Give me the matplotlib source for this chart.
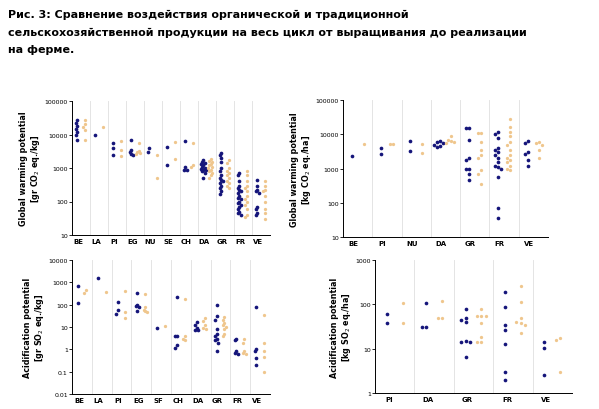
import numpy as np
import matplotlib
matplotlib.use("Agg")
import matplotlib.pyplot as plt

ORG = "#15157a"
CONV = "#efc68d"

# Panel 1: gr CO2 eq./kg
p1_cats = ["BE", "LA", "PI", "EG", "NU", "SE", "CH", "DA", "GR", "FR", "VE"]
p1_org = [[28000, 22000, 18000, 15000, 12000, 10000, 7000], [10000], [5500, 4000, 2400],
          [7000, 3500, 3000, 2600, 2500], [3900, 3000], [4300, 1200], [6500, 1100, 900, 850],
          [1700, 1500, 1400, 1300, 1200, 1100, 1000, 950, 900, 850, 800, 700, 500],
          [2900, 2500, 2000, 1500, 1000, 800, 600, 500, 450, 400, 350, 300, 250, 200, 170],
          [700, 600, 400, 300, 250, 220, 200, 180, 150, 130, 120, 100, 90, 80, 70, 60, 50, 45, 40],
          [450, 300, 220, 200, 180, 70, 60, 45, 40]]
p1_conv = [[28000, 20000, 17000, 14000, 7000], [17000], [6500, 3500, 2300],
           [5500, 3200, 2800, 2600, 3000], [2500, 500], [6000, 1900], [5500, 1200, 1100],
           [1800, 1600, 1500, 1300, 1200, 1100, 1000, 900, 800, 700, 600, 500],
           [1700, 1400, 1000, 800, 700, 600, 500, 400, 350, 300, 250],
           [800, 600, 400, 300, 250, 200, 150, 120, 100, 80, 60, 40, 35],
           [400, 300, 220, 200, 150, 100, 60, 45, 30]]

# Panel 2: kg CO2 eq./ha
p2_cats = ["BE", "PI", "NU", "DA", "GR", "FR", "VE"]
p2_org = [[2300], [4000, 2700], [6500, 3300], [6500, 6000, 5500, 5000, 4500, 4200],
          [15000, 15000, 7000, 2000, 1800, 1000, 1000, 700, 450],
          [12000, 10000, 8000, 4000, 3500, 3000, 2500, 2000, 1500, 1200, 1100, 1000, 550, 70, 35],
          [6500, 5500, 3000, 2600, 1800, 1200]]
p2_conv = [[5200], [5300, 5300], [5300, 2800], [9000, 7000, 6500, 6000, 5500],
           [11000, 11000, 6000, 3500, 2500, 2000, 900, 700, 350],
           [28000, 16000, 12000, 9000, 6000, 5000, 3500, 2500, 2000, 1800, 1500, 1200, 1000, 900],
           [6000, 5500, 5000, 3500, 2000]]

# Panel 3: gr SO2 eq./kg
p3_cats = ["BE", "LA", "PI", "EG", "SF", "CH", "DA", "GR", "FR", "VE"]
p3_org = [[700, 120], [1500], [130, 55, 38], [350, 100, 90, 80, 50], [9], [230, 4, 4, 1.5, 1.2],
          [16, 12, 9, 7, 7], [100, 30, 20, 8, 5, 4, 3, 2.5, 2, 0.8], [3, 2.5, 0.8, 0.7, 0.6],
          [75, 1, 0.8, 0.4, 0.2]]
p3_conv = [[450, 320], [380], [400, 45, 25], [300, 80, 60, 50, 45], [11], [180, 4, 3, 2.5],
           [25, 18, 12, 9, 8], [28, 20, 15, 12, 10, 8, 5, 4], [3, 2, 0.8, 0.7, 0.6],
           [35, 2, 0.8, 0.45, 0.1]]

# Panel 4: kg SO2 eq./ha
p4_cats = ["PI", "DA", "GR", "FR", "VE"]
p4_org = [[60, 38], [105, 31, 31], [80, 50, 45, 40, 15, 14, 14, 6.5],
          [190, 85, 35, 26, 12.5, 3, 2], [14, 10.5, 2.5]]
p4_conv = [[105, 37], [120, 48, 48], [80, 55, 55, 55, 38, 18, 14, 14],
           [260, 110, 48, 40, 38, 35, 22], [17, 16, 3]]


def swarm(vals, step, tol):
    lv = np.log10(np.array(vals, float))
    order = np.argsort(-lv)
    offs = np.zeros(len(vals))
    placed = []
    for i in order:
        k = 0
        while True:
            cand = ((k + 1) // 2) * step * (1 if k % 2 == 0 else -1)
            if all(abs(lv[i] - lv[j]) > tol or abs(cand - offs[j]) > step * 0.9 for j in placed):
                break
            k += 1
        offs[i] = cand
        placed.append(i)
    return offs


def panel(ax, cats, org, conv, ylim, ylabel, ms, step):
    n = len(cats)
    ax.set_yscale("log")
    span = np.log10(ylim[1]) - np.log10(ylim[0])
    tol = span * 0.03
    for i in range(n):
        o = swarm(org[i], step, tol)
        c = swarm(conv[i], step, tol)
        ax.scatter(i - 0.2 + o, org[i], s=ms, color=ORG, lw=0, zorder=3)
        ax.scatter(i + 0.2 + c, conv[i], s=ms * 0.8, color=CONV, lw=0, zorder=3)
    for i in range(n - 1):
        ax.axvline(i + 0.5, color="#e4e4e4", lw=0.7, zorder=1)
    ax.set_xlim(-0.5, n - 0.5)
    ax.set_ylim(*ylim)
    ax.set_xticks(np.arange(n) - 0.15)
    ax.set_xticklabels(cats, fontsize=5, fontweight="bold")
    ax.tick_params(axis="x", length=0, pad=2)
    ax.tick_params(axis="y", labelsize=4.5, length=2, width=0.6, pad=1)
    ax.minorticks_off()
    ticks = [10 ** k for k in range(int(np.log10(ylim[0])), int(np.log10(ylim[1])) + 1)]
    ax.set_yticks(ticks)
    ax.set_yticklabels([("%g" % t) for t in ticks])
    ax.set_ylabel(ylabel, fontsize=5.8, fontweight="bold", labelpad=2, linespacing=1.1)
    for s in ["top", "right"]:
        ax.spines[s].set_visible(False)
    for s in ["left", "bottom"]:
        ax.spines[s].set_linewidth(0.7)


fig = plt.figure(figsize=(5.99, 4.10), dpi=100)
fig.text(0.013, 0.975,
         "Рис. 3: Сравнение воздействия органической и традиционной\n"
         "сельскохозяйственной продукции на весь цикл от выращивания до реализации\n"
         "на ферме.",
         fontsize=8, fontweight="bold", va="top", ha="left", linespacing=1.9)

W, H = 599, 410
def add(l, t, r, b):
    return fig.add_axes([l / W, 1 - b / H, (r - l) / W, (b - t) / H])

ax1 = add(72, 102, 270, 236)
ax2 = add(343, 101, 548, 238)
ax3 = add(72, 261, 270, 395)
ax4 = add(375, 261, 572, 394)

panel(ax1, p1_cats, p1_org, p1_conv, (10, 100000),
      "Global warming potential\n[gr CO$_2$ eq./kg]", 7, 0.08)
panel(ax2, p2_cats, p2_org, p2_conv, (10, 100000),
      "Global warming potential\n[kg CO$_2$ eq./ha]", 7, 0.1)
panel(ax3, p3_cats, p3_org, p3_conv, (0.01, 10000),
      "Acidification potential\n[gr SO$_2$ eq./kg]", 7, 0.08)
panel(ax4, p4_cats, p4_org, p4_conv, (1, 1000),
      "Acidification potential\n[kg SO$_2$ eq./ha]", 7, 0.11)

fig.savefig("out.png", dpi=100)
